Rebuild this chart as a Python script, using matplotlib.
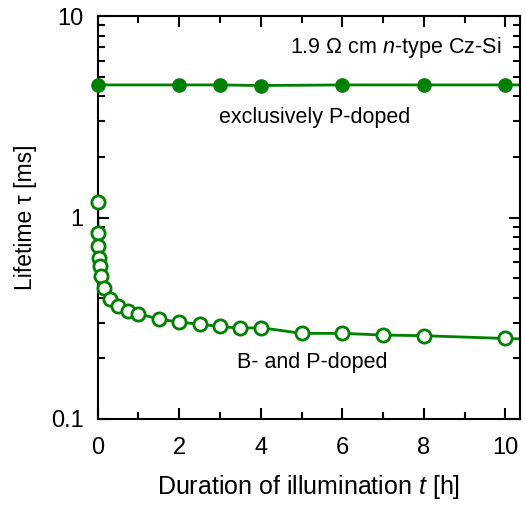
import numpy as np
import matplotlib.pyplot as plt
from matplotlib.ticker import LogLocator, FixedLocator, NullFormatter, FuncFormatter

plt.rcParams['font.family'] = ['Liberation Sans', 'DejaVu Sans']
plt.rcParams['mathtext.fontset'] = 'custom'
plt.rcParams['mathtext.it'] = 'Liberation Sans:italic'
plt.rcParams['mathtext.rm'] = 'Liberation Sans'

# exclusively P-doped (filled)
t_p = [0, 2, 3, 4, 6, 8, 10, 12]
tau_p = [4.55, 4.55, 4.55, 4.52, 4.55, 4.55, 4.55, 4.55]

# B- and P-doped (open)
t_bp = [0, 0.01, 0.02, 0.03, 0.05, 0.08, 0.15, 0.3, 0.5, 0.75, 1.0,
        1.5, 2.0, 2.5, 3.0, 3.5, 4.0, 5.0, 6.0, 7.0, 8.0, 10.0, 12.0]
tau_bp = [1.2, 0.84, 0.726, 0.63, 0.573, 0.515, 0.445, 0.393, 0.365, 0.344, 0.333,
          0.313, 0.303, 0.295, 0.288, 0.282, 0.284, 0.266, 0.266, 0.261, 0.259, 0.251, 0.245]

green = '#008000'
xmax = 10.35

fig = plt.figure(figsize=(5.25, 5.07), dpi=100)
ax = fig.add_axes([0.186, 0.1736, 0.804, 0.7948])

# lines (clipped at the frame), markers inside the range drawn over the frame
ax.plot(t_p, tau_p, '-', color=green, lw=2)
ax.plot(t_bp, tau_bp, '-', color=green, lw=2)

tp, yp = np.array(t_p), np.array(tau_p)
tb, yb = np.array(t_bp), np.array(tau_bp)
ax.plot(tp[tp <= xmax], yp[tp <= xmax], 'o', ms=9.5, mfc=green, mec=green, clip_on=False, zorder=3)
ax.plot(tb[tb <= xmax], yb[tb <= xmax], 'o', ms=9.5, mfc='white', mec=green, mew=2, clip_on=False, zorder=3)

ax.set_yscale('log')
ax.set_ylim(0.1, 10)
ax.set_xlim(0, xmax)

ax.xaxis.set_major_locator(FixedLocator([0, 2, 4, 6, 8, 10]))
ax.xaxis.set_minor_locator(FixedLocator([1, 3, 5, 7, 9]))
ax.yaxis.set_major_locator(FixedLocator([0.1, 1, 10]))
ax.yaxis.set_major_formatter(FuncFormatter(lambda v, p: '%g' % v))
ax.yaxis.set_minor_locator(LogLocator(base=10, subs=range(2, 10)))
ax.yaxis.set_minor_formatter(NullFormatter())

ax.tick_params(which='both', direction='in', top=True, right=True, width=1.5, labelsize=17)
ax.tick_params(axis='x', which='major', pad=13)
ax.tick_params(axis='y', which='major', pad=10)
ax.tick_params(which='major', length=8)
ax.tick_params(which='minor', length=5)
for s in ax.spines.values():
    s.set_linewidth(1.5)

ax.set_xlabel(r'Duration of illumination $t$ [h]', fontsize=18, labelpad=10)
ax.set_ylabel(u'Lifetime \u03c4 [ms]', fontsize=16.5, labelpad=10)

ax.text(0.957, 0.923, r'1.9 $\Omega$ cm $n$-type Cz-Si', transform=ax.transAxes,
        ha='right', va='center', fontsize=15.5)
ax.text(0.515, 0.749, 'exclusively P-doped', transform=ax.transAxes,
        ha='center', va='center', fontsize=15.5)
ax.text(0.508, 0.139, 'B- and P-doped', transform=ax.transAxes,
        ha='center', va='center', fontsize=15.5)

fig.savefig('out.png', dpi=100)
